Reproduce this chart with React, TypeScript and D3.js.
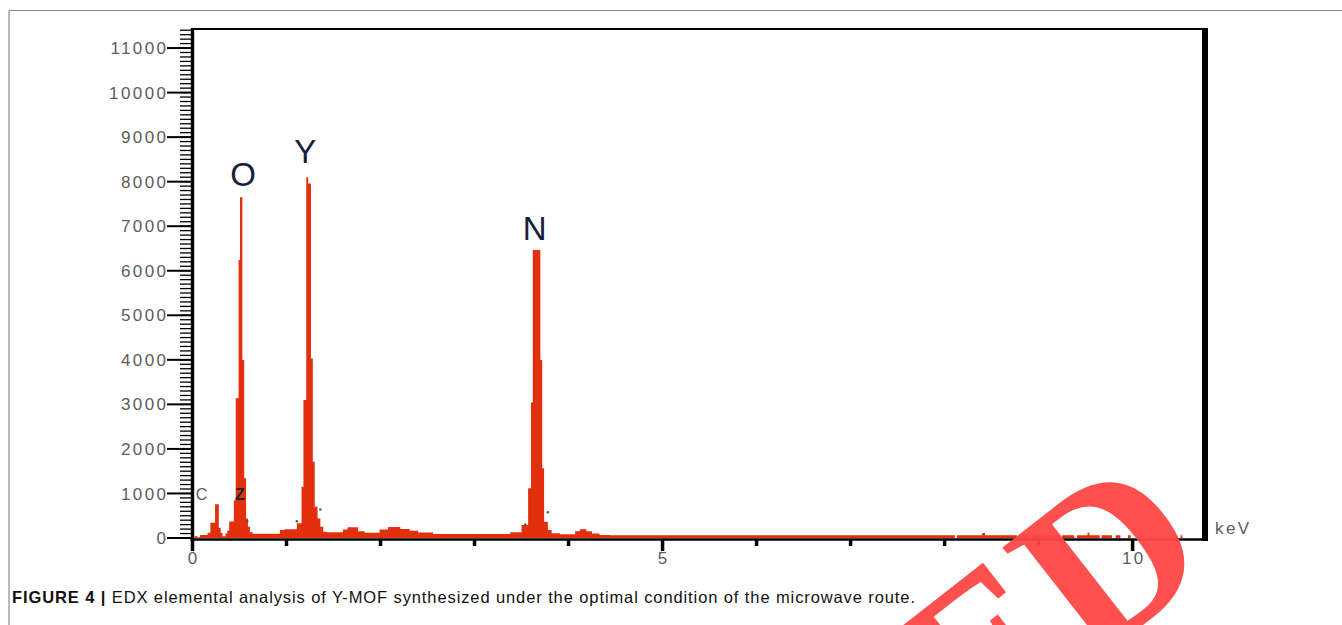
import React from "react";
import * as d3 from "d3";

const W = 1342;
const H = 625;

// EDX spectrum as step channels: [start keV, counts] (each step lasts until the next start)
const spectrumLow: [number, number][] = [
  [0.02, 40], [0.05, 15], [0.08, 70], [0.16, 120], [0.19, 340], [0.24, 760], [0.28, 230],
  [0.30, 110], [0.32, 40], [0.35, 100], [0.37, 160], [0.39, 370], [0.44, 850], [0.46, 3135],
  [0.49, 6240], [0.505, 7650], [0.53, 3995], [0.55, 1340], [0.57, 440], [0.59, 260],
  [0.61, 130], [0.64, 95], [0.93, 180], [0.98, 195], [1.11, 330], [1.16, 1150], [1.18, 3100],
  [1.21, 8100], [1.23, 7960], [1.26, 4030], [1.28, 1710], [1.30, 700], [1.33, 440],
  [1.36, 250], [1.39, 140], [1.43, 130],
];
const spectrumMid: [number, number][] = [
  [1.60, 190], [1.65, 240], [1.76, 150], [1.83, 120], [1.99, 190], [2.08, 245], [2.21, 200],
  [2.31, 160], [2.40, 125], [2.56, 90], [3.38, 130], [3.50, 290], [3.57, 1115], [3.60, 3040],
  [3.62, 6465], [3.70, 3995], [3.72, 1565], [3.74, 365], [3.78, 180], [3.82, 105], [3.91, 85],
  [4.07, 150], [4.12, 195], [4.19, 150], [4.25, 100], [4.33, 70], [4.44, 60],
];
const spectrumHigh: [number, number][] = [
  [8.11, 0], [8.13, 60], [8.40, 110], [8.43, 60], [8.77, 0], [8.79, 60], [8.91, 0], [8.93, 60],
  [9.01, 110], [9.03, 60], [9.22, 0], [9.25, 60], [9.38, 0], [9.41, 60], [9.52, 120], [9.54, 60],
  [9.65, 0], [9.67, 60], [9.78, 0], [9.82, 60], [9.87, 0], [9.95, 60], [9.98, 0], [10.07, 60],
  [10.11, 0], [10.18, 70], [10.20, 0], [10.34, 70], [10.36, 0], [10.45, 60], [10.47, 0],
  [10.51, 60], [10.53, 0],
];

const yTicks = [0, 1000, 2000, 3000, 4000, 5000, 6000, 7000, 8000, 9000, 10000, 11000];
const xMajorTicks = [0, 5, 10];
const xMinorTicks = [1, 2, 3, 4, 6, 7, 8, 9];

const peakNames = ["O", "Y", "N"];
const peakKeV = [0.537, 1.2, 3.64];
const peakLabelCounts = [7900, 8420, 6690];

const minorNames = ["C", "Z"];
const minorKeV = [0.097, 0.505];
const minorCounts = [864, 864];

const dotKeV = [0.582, 1.11, 1.36, 3.54, 3.78];
const dotCounts = [377, 377, 640, 303, 579];

const caption = "EDX elemental analysis of Y-MOF synthesized under the optimal condition of the microwave route.";

export default function App() {
  const x = d3.scaleLinear().domain([0, 10.77]).range([192.5, 1205]);
  const y = d3.scaleLinear().domain([0, 11450]).range([538, 28]);
  const spectrum = [...spectrumLow, ...spectrumMid, ...spectrumHigh];
  const area = d3
    .area<[number, number]>()
    .x((d) => x(d[0]))
    .y0(y(0))
    .y1((d) => y(d[1]))
    .curve(d3.curveStepAfter);
  const minorY = d3.range(0, 11500, 100);
  const labelFont = "'Liberation Sans', Arial, sans-serif";
  const x0 = x(0);
  const xEnd = x.range()[1];
  const yTop = y.range()[1];
  const yBase = y(0);

  return (
    <svg width={W} height={H} style={{ position: "absolute", left: 0, top: 0, background: "#fff" }}>
      {/* outer figure frame */}
      <line x1={9} y1={10.5} x2={W} y2={10.5} stroke="#8a8a8a" strokeWidth={1.2} />
      <line x1={9} y1={10.5} x2={9} y2={H} stroke="#8a8a8a" strokeWidth={1.2} />

      {/* spectrum */}
      <path d={area(spectrum) || ""} fill="#e2300e" />

      {/* marker dots */}
      {dotKeV.map((k, i) => (
        <circle key={i} cx={x(k)} cy={y(dotCounts[i])} r={1.2} fill="#555" />
      ))}

      {/* plot frame */}
      <line x1={x0} y1={yTop + 1} x2={xEnd + 3} y2={yTop + 1} stroke="#000" strokeWidth={2} />
      <line x1={xEnd} y1={yTop} x2={xEnd} y2={yBase + 3} stroke="#000" strokeWidth={6} />
      <line x1={x0 - 2} y1={yBase + 1.5} x2={xEnd + 3} y2={yBase + 1.5} stroke="#000" strokeWidth={2.4} />
      <line x1={x0} y1={yTop} x2={x0} y2={yBase + 3} stroke="#000" strokeWidth={3.4} />

      {/* y minor ticks */}
      {minorY.map((v) => (
        <line key={v} x1={180} x2={x0} y1={y(v)} y2={y(v)} stroke="#000" strokeWidth={1.3} />
      ))}
      {/* y major ticks + labels */}
      {yTicks.map((v) => (
        <g key={v}>
          <line x1={167} x2={x0} y1={y(v)} y2={y(v)} stroke="#000" strokeWidth={2} />
          <text
            x={168.4}
            y={y(v)}
            dy="0.36em"
            textAnchor="end"
            fontFamily={labelFont}
            fontSize={17}
            letterSpacing={2.4}
            fill="#5c5c5c"
          >
            {v}
          </text>
        </g>
      ))}

      {/* x ticks */}
      {xMinorTicks.map((v) => (
        <line key={v} x1={x(v)} x2={x(v)} y1={yBase + 2} y2={yBase + 8} stroke="#000" strokeWidth={3.5} />
      ))}
      {xMajorTicks.map((v) => (
        <g key={v}>
          <line x1={x(v)} x2={x(v)} y1={yBase + 2} y2={yBase + 13} stroke="#000" strokeWidth={3.5} />
          <text
            x={x(v) + 1.2}
            y={yBase + 26}
            textAnchor="middle"
            fontFamily={labelFont}
            fontSize={17}
            letterSpacing={2.4}
            fill="#5c5c5c"
          >
            {v}
          </text>
        </g>
      ))}
      <text x={1215} y={534} fontFamily={labelFont} fontSize={17} letterSpacing={2.4} fill="#5c5c5c">
        keV
      </text>

      {/* peak labels */}
      {peakNames.map((n, i) => (
        <text
          key={n}
          x={x(peakKeV[i])}
          y={y(peakLabelCounts[i])}
          textAnchor="middle"
          fontFamily={labelFont}
          fontSize={33}
          fill="#16203a"
        >
          {n}
        </text>
      ))}
      {minorNames.map((n, i) => (
        <text
          key={n}
          x={x(minorKeV[i])}
          y={y(minorCounts[i])}
          textAnchor="middle"
          fontFamily={labelFont}
          fontSize={16}
          fontWeight={i === 1 ? "bold" : "normal"}
          fill={i === 1 ? "#222" : "#5c5c5c"}
        >
          {n}
        </text>
      ))}

      {/* caption */}
      <text x={12} y={603} fontFamily={labelFont} fontSize={16.5} fill="#111" textLength={903} lengthAdjust="spacing">
        <tspan fontWeight="bold">FIGURE 4 | </tspan>
        <tspan>{caption}</tspan>
      </text>

      {/* retraction watermark */}
      <g transform="translate(1218,566) rotate(-38)">
        <text
          x={0}
          y={0}
          textAnchor="end"
          fontFamily="'Liberation Serif', 'DejaVu Serif', serif"
          fontWeight="bold"
          fontSize={225}
          fill="#ff4747"
          fillOpacity={0.95}
        >
          RETRACTED
        </text>
      </g>
    </svg>
  );
}
